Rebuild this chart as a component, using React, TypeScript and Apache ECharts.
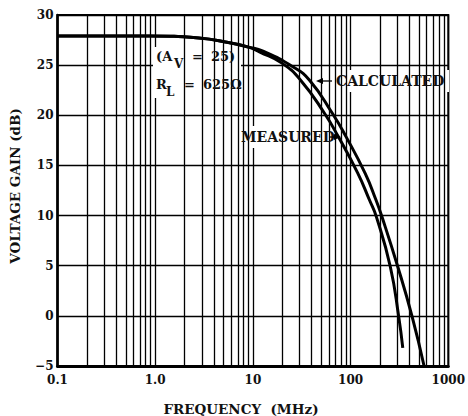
import { useEffect, useRef } from "react";
import * as echarts from "echarts";

// ---- data ----
const freqTickLabels = ["0.1", "1.0", "10", "100", "1000"];
const decadeStarts = [0.1, 1, 10, 100];
const minorMultipliers = [2, 3, 4, 5, 6, 7, 8, 9];

const measuredFreq = [0.1, 0.87, 2.8, 5.6, 9.0, 11.8, 19.8, 30.8, 54, 75, 118, 156, 184, 255, 311, 342];
const measuredGain = [27.9, 27.9, 27.7, 27.25, 26.8, 26.3, 25.2, 23.5, 20.2, 17.85, 14.25, 11.55, 9.85, 4.9, -0.1, -3.2];

const calculatedFreq = [0.1, 0.87, 2.8, 5.6, 9.0, 12.7, 25.6, 38, 65, 90, 141, 182, 209, 304, 427, 565];
const calculatedGain = [27.9, 27.9, 27.7, 27.25, 26.8, 26.4, 24.85, 23.5, 20.2, 17.85, 14.2, 11.55, 9.9, 4.9, -0.1, -5.0];

const yTitle = "VOLTAGE GAIN (dB)";
const xTitle = "FREQUENCY  (MHz)";
const calcLabel = "CALCULATED";
const measLabel = "MEASURED";

const FONT = '"DejaVu Serif", serif';

export default function App() {
  const ref = useRef<HTMLDivElement>(null);

  useEffect(() => {
    if (!ref.current) return;
    const chart = echarts.init(ref.current, undefined, { renderer: "svg" });

    const minorLines: { xAxis: number }[] = [];
    decadeStarts.forEach((d) =>
      minorMultipliers.forEach((m) => minorLines.push({ xAxis: +(d * m).toPrecision(3) }))
    );

    const toPairs = (xs: number[], ys: number[]) => xs.map((x, i) => [x, ys[i]]);

    const textStyle = (extra: any) => ({
      fontFamily: FONT,
      fontWeight: "bold",
      fill: "#111",
      ...extra,
    });

    const curve = (name: string, xs: number[], ys: number[]) => ({
      type: "line",
      name,
      data: toPairs(xs, ys),
      showSymbol: false,
      smooth: 0.5,
      z: 5,
      lineStyle: { color: "#000", width: 3 },
      itemStyle: { color: "#000" },
    });

    chart.setOption({
      animation: false,
      backgroundColor: "#fff",
      grid: {
        left: 57.5,
        right: 16,
        top: 15,
        bottom: 50,
        show: true,
        borderColor: "#000",
        borderWidth: 2,
        backgroundColor: "transparent",
      },
      xAxis: {
        type: "log",
        logBase: 10,
        min: 0.1,
        max: 1000,
        splitNumber: 4,
        axisLine: { show: true, onZero: false, lineStyle: { color: "#000", width: 3 } },
        axisTick: { show: false },
        axisLabel: {
          margin: 8,
          fontFamily: FONT,
          fontWeight: "bold",
          fontSize: 12,
          color: "#111",
          formatter: (v: number) => freqTickLabels[Math.round(Math.log10(v)) + 1] ?? "",
        },
        splitLine: { show: true, lineStyle: { color: "#000", width: 1.3 } },
      },
      yAxis: {
        type: "value",
        min: -5,
        max: 30,
        interval: 5,
        axisLine: { show: true, onZero: false, lineStyle: { color: "#000", width: 2.5 } },
        axisTick: { show: false },
        axisLabel: {
          margin: 4,
          fontFamily: FONT,
          fontWeight: "bold",
          fontSize: 12,
          color: "#111",
          padding: [0, 0, 4, 0],
          formatter: (v: number) => (v < 0 ? "\u2212" + Math.abs(v) : String(v)),
        },
        splitLine: { show: true, lineStyle: { color: "#000", width: 1.3 } },
      },
      series: [
        {
          type: "line",
          name: "grid",
          data: [],
          z: 1,
          silent: true,
          markLine: {
            silent: true,
            symbol: ["none", "none"],
            label: { show: false },
            lineStyle: { color: "#000", width: 1.3, type: "solid" },
            emphasis: { disabled: true },
            data: minorLines,
          },
        },
        curve("Measured", measuredFreq, measuredGain),
        curve("Calculated", calculatedFreq, calculatedGain),
      ],
      graphic: [
        // white boxes behind annotations
        { type: "rect", z: 3, shape: { x: 153, y: 47, width: 88, height: 51 }, style: { fill: "#fff" } },
        { type: "rect", z: 3, shape: { x: 333, y: 70, width: 116, height: 22 }, style: { fill: "#fff" } },
        { type: "rect", z: 3, shape: { x: 238, y: 126, width: 92, height: 22 }, style: { fill: "#fff" } },
        // (A_V = 25)
        { type: "text", z: 6, x: 156, y: 56, style: textStyle({ text: "(A", fontSize: 13, verticalAlign: "middle" }) },
        { type: "text", z: 6, x: 174, y: 64, style: textStyle({ text: "V", fontSize: 12, verticalAlign: "middle" }) },
        { type: "text", z: 6, x: 192, y: 56, style: textStyle({ text: "=", fontSize: 13, verticalAlign: "middle" }) },
        { type: "text", z: 6, x: 211, y: 56, style: textStyle({ text: "25)", fontSize: 13, verticalAlign: "middle" }) },
        // R_L = 625Ω
        { type: "text", z: 6, x: 156, y: 84, style: textStyle({ text: "R", fontSize: 13, verticalAlign: "middle" }) },
        { type: "text", z: 6, x: 166, y: 92, style: textStyle({ text: "L", fontSize: 12, verticalAlign: "middle" }) },
        { type: "text", z: 6, x: 184, y: 84, style: textStyle({ text: "=", fontSize: 13, verticalAlign: "middle" }) },
        { type: "text", z: 6, x: 203, y: 84, style: textStyle({ text: "625\u03A9", fontSize: 13, verticalAlign: "middle" }) },
        // CALCULATED with arrow
        { type: "text", z: 6, x: 336, y: 81, style: textStyle({ text: calcLabel, fontSize: 14, verticalAlign: "middle" }) },
        { type: "line", z: 6, shape: { x1: 320, y1: 81, x2: 332, y2: 81 }, style: { stroke: "#000", lineWidth: 1.3 } },
        { type: "polygon", z: 6, shape: { points: [[316, 81], [323, 78], [323, 84]] }, style: { fill: "#000" } },
        // MEASURED with arrow
        { type: "text", z: 6, x: 241, y: 137, style: textStyle({ text: measLabel, fontSize: 14, verticalAlign: "middle" }) },
        { type: "line", z: 6, shape: { x1: 329, y1: 137, x2: 337, y2: 137 }, style: { stroke: "#000", lineWidth: 1.3 } },
        { type: "polygon", z: 6, shape: { points: [[341, 137], [334, 134], [334, 140]] }, style: { fill: "#000" } },
        // axis titles
        {
          type: "text",
          z: 6,
          x: 14.5,
          y: 186,
          rotation: Math.PI / 2,
          style: textStyle({ text: yTitle, fontSize: 13.5, align: "center", verticalAlign: "middle" }),
        },
        {
          type: "text",
          z: 6,
          x: 241,
          y: 409,
          style: textStyle({ text: xTitle, fontSize: 13.5, align: "center", verticalAlign: "middle" }),
        },
      ],
    });

    return () => chart.dispose();
  }, []);

  return (
    <div
      ref={ref}
      style={{ position: "fixed", left: 0, top: 0, width: 468, height: 416, background: "#fff" }}
    />
  );
}
